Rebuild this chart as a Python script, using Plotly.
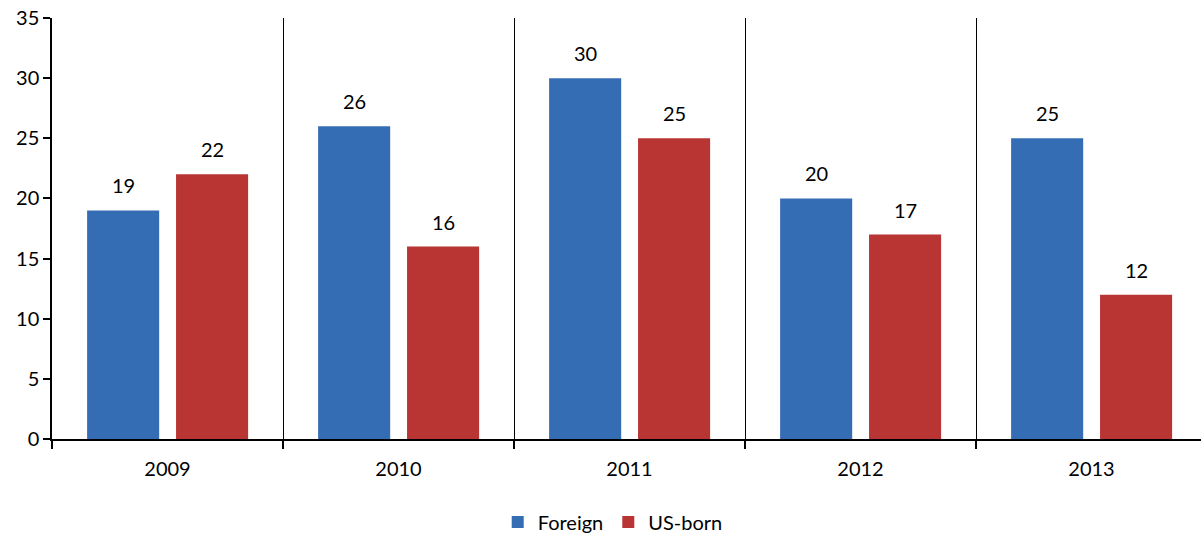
import plotly.graph_objects as go

years = ["2009", "2010", "2011", "2012", "2013"]
foreign = [19, 26, 30, 20, 25]
us_born = [22, 16, 25, 17, 12]
y_ticks = [0, 5, 10, 15, 20, 25, 30, 35]

FONT = "Lato, 'Open Sans', sans-serif"
BAR_W = 0.312
OFF_F = -0.348
OFF_U = 0.037

fig = go.Figure()
fig.add_trace(go.Bar(
    name="Foreign", x=years, y=foreign, width=BAR_W, offset=OFF_F,
    marker=dict(color="#356DB5", line=dict(width=0)),
))
fig.add_trace(go.Bar(
    name="US-born", x=years, y=us_born, width=BAR_W, offset=OFF_U,
    marker=dict(color="#B83534", line=dict(width=0)),
))

annotations = []
for i, (f, u) in enumerate(zip(foreign, us_born)):
    for v, off in ((f, OFF_F), (u, OFF_U)):
        annotations.append(dict(
            x=i + off + BAR_W / 2, y=v, xref="x", yref="y",
            text=str(v), showarrow=False, yanchor="bottom", yshift=11,
            font=dict(family=FONT, size=20, color="#000000"),
        ))

fig.update_layout(
    width=1201, height=545,
    margin=dict(l=52, r=0, t=18, b=106),
    paper_bgcolor="white", plot_bgcolor="white",
    barmode="group",
    showlegend=True,
    legend=dict(orientation="h", x=0.488, xanchor="center", y=-0.197, yanchor="middle",
                font=dict(family=FONT, size=20, color="#000000"),
                itemwidth=30, traceorder="normal"),
    annotations=annotations,
    font=dict(family=FONT, size=20, color="#000000"),
)
fig.update_xaxes(
    type="category", range=[-0.5, 4.474], automargin=False,
    tickson="boundaries", ticks="outside", ticklen=8, tickwidth=1.5, tickcolor="black",
    showgrid=True, gridcolor="black", gridwidth=1.4,
    showline=True, linecolor="black", linewidth=1.5,
    tickfont=dict(family=FONT, size=20, color="#000000"),
    ticklabelstandoff=11,
)
fig.update_yaxes(
    range=[0, 35], tickvals=y_ticks, ticktext=[str(t) for t in y_ticks],
    automargin=False, ticklabeloverflow="allow",
    ticks="outside", ticklen=7, tickwidth=1.5, tickcolor="black",
    showgrid=False, zeroline=False,
    showline=True, linecolor="black", linewidth=1.5,
    tickfont=dict(family=FONT, size=20, color="#000000"),
)

fig.write_html(
    "out.html",
    config={"displayModeBar": False},
    post_script="document.body.style.margin='0';document.body.style.overflow='hidden';",
)
